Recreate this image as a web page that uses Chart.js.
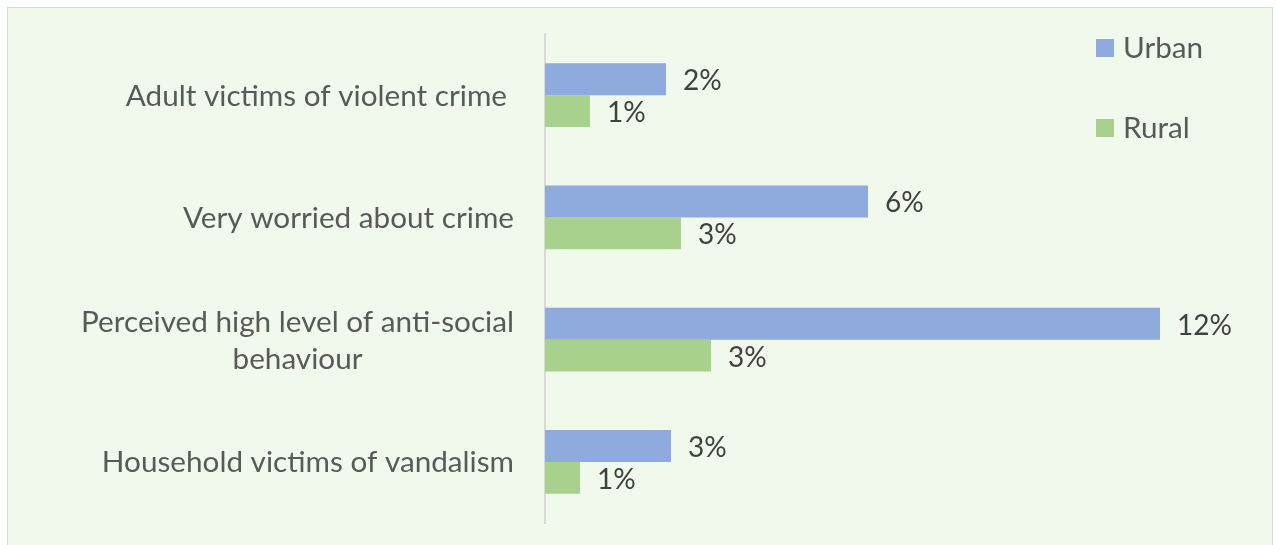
<!DOCTYPE html>
<html>
<head>
<meta charset="utf-8">
<script src="https://cdn.jsdelivr.net/npm/chart.js@4"></script>
<style>
  body { margin: 0; background: #ffffff; overflow: hidden; }
  #box {
    position: absolute; left: 7px; top: 7px;
    width: 1264px; height: 545px;
    background: #f1f8ec; border: 1px solid #d9d9d9;
  }
  #chart { display: block; }
</style>
</head>
<body>
<div id="box"><canvas id="chart" width="1264" height="545"></canvas></div>
<script>
// categories and series
const categories = [
    ['Adult victims of violent crime'],
    ['Very worried about crime'],
    ['Perceived high level of anti-social', 'behaviour'],
    ['Household victims of vandalism']
];
const seriesNames = ['Urban', 'Rural'];
const urbanValues = [2.42, 6.46, 12.3, 2.52];
const ruralValues = [0.9, 2.72, 3.32, 0.7];

const urbanColor = '#8faadc';
const ruralColor = '#a9d18e';
const labelFont = '29.7px Lato';
const valueFont = '28px Lato';

// labels at the end of each bar
const valueLabels = {
    id: 'valueLabels',
    afterDatasetsDraw(chart) {
        const ctx = chart.ctx;
        ctx.save();
        ctx.font = valueFont;
        ctx.fillStyle = '#404040';
        ctx.textAlign = 'left';
        ctx.textBaseline = 'middle';
        chart.data.datasets.forEach((ds, i) => {
            chart.getDatasetMeta(i).data.forEach((bar, j) => {
                ctx.fillText(Math.round(ds.data[j]) + '%', bar.x + 17, bar.y + 2);
            });
        });
        ctx.restore();
    }
};

// category labels: block right aligned, lines centred inside the block
const categoryLabels = {
    id: 'categoryLabels',
    afterDraw(chart) {
        const ctx = chart.ctx;
        const yScale = chart.scales.y;
        const rightEdge = 506;
        const lineHeight = 37;
        ctx.save();
        ctx.font = labelFont;
        ctx.fillStyle = '#595959';
        ctx.textAlign = 'center';
        ctx.textBaseline = 'middle';
        categories.forEach((lines, i) => {
            const widest = Math.max(...lines.map(l => ctx.measureText(l).width));
            // first label sits a little left in the original
            const cx = rightEdge - (i === 0 ? 7 : 0) - widest / 2;
            const cy = yScale.getPixelForTick(i) + 1 - (lines.length - 1) * lineHeight / 2;
            lines.forEach((l, k) => ctx.fillText(l, cx, cy + k * lineHeight));
        });
        ctx.restore();
    }
};

// legend in the top right corner
const sideLegend = {
    id: 'sideLegend',
    afterDraw(chart) {
        const ctx = chart.ctx;
        ctx.save();
        ctx.font = labelFont;
        ctx.textBaseline = 'middle';
        chart.data.datasets.forEach((ds, i) => {
            const y = 40 + i * 80;
            ctx.fillStyle = ds.backgroundColor;
            ctx.fillRect(1088, y - 9, 18, 18);
            ctx.fillStyle = '#595959';
            ctx.fillText(ds.label, 1115, y);
        });
        ctx.restore();
    }
};

const ctx = document.getElementById('chart').getContext('2d');
const myChart = new Chart(ctx, {
    type: 'bar',
    data: {
        labels: categories,
        datasets: [{
            label: seriesNames[0],
            data: urbanValues,
            backgroundColor: urbanColor,
            categoryPercentage: 0.523,
            barPercentage: 1
        }, {
            label: seriesNames[1],
            data: ruralValues,
            backgroundColor: ruralColor,
            categoryPercentage: 0.523,
            barPercentage: 1
        }]
    },
    options: {
        indexAxis: 'y',
        responsive: false,
        animation: false,
        layout: { padding: { top: 26, bottom: 30, left: 0, right: 27 } },
        plugins: {
            legend: { display: false },
            tooltip: { enabled: false }
        },
        scales: {
            x: {
                display: false,
                min: 0,
                max: 14
            },
            y: {
                afterFit(scale) { scale.width = 537; },
                grid: { display: false },
                border: { display: true, color: '#d9d9d9', width: 2 },
                ticks: { display: false }
            }
        }
    },
    plugins: [valueLabels, categoryLabels, sideLegend]
});
</script>
</body>
</html>
